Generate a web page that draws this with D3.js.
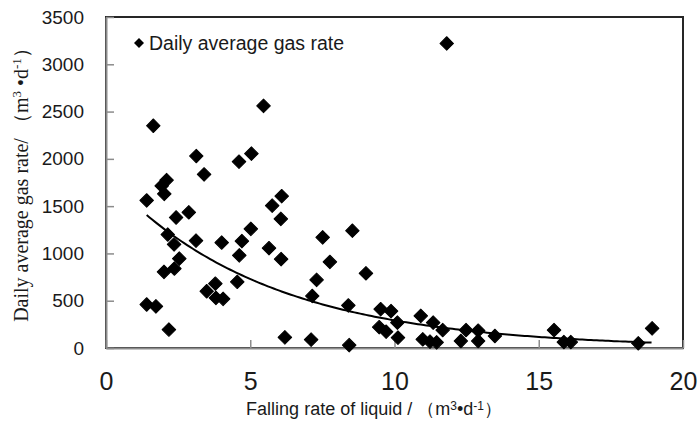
<!DOCTYPE html>
<html>
<head>
<meta charset="utf-8">
<script src="https://cdn.jsdelivr.net/npm/d3@7"></script>
<style>
  body { margin: 0; background: #fff; }
</style>
</head>
<body>
<div id="chart"></div>
<script>
// values
const liquidRate = [1.41, 1.41, 1.64, 1.73, 1.93, 2.01, 2.02, 2.10, 2.14, 2.18,
  2.36, 2.37, 2.43, 2.54, 2.87, 3.12, 3.13, 3.40, 3.49, 3.79,
  3.81, 4.01, 4.06, 4.55, 4.61, 4.62, 4.71, 5.02, 5.04, 5.46,
  5.65, 5.76, 6.06, 6.07, 6.09, 6.20, 7.11, 7.15, 7.30, 7.51,
  7.76, 8.40, 8.43, 8.54, 9.01, 9.47, 9.52, 9.71, 9.88, 10.10,
  10.12, 10.91, 10.98, 11.23, 11.34, 11.46, 11.67, 11.81, 12.30, 12.48,
  12.90, 12.90, 13.48, 15.53, 15.87, 16.11, 18.45, 18.93];
const gasRate = [1560, 460, 2350, 440, 1715, 805, 1630, 1775, 1200, 195,
  1095, 840, 1380, 945, 1435, 1135, 2030, 1835, 600, 680,
  530, 1115, 520, 700, 1970, 980, 1130, 1260, 2055, 2560,
  1055, 1505, 1365, 940, 1605, 113, 88, 550, 720, 1170,
  910, 450, 30, 1240, 790, 220, 410, 172, 390, 268,
  110, 340, 92, 67, 268, 60, 190, 3220, 74, 190,
  183, 74, 127, 190, 63, 63, 50, 208];
const xTicks = [0, 5, 10, 15, 20];
const yTicks = [0, 500, 1000, 1500, 2000, 2500, 3000, 3500];
const legendLabel = "Daily average gas rate";

const width = 699, height = 437;
const margin = { top: 17, right: 16, bottom: 89, left: 106 };

const svg = d3.select("#chart").append("svg")
  .attr("width", width)
  .attr("height", height)
  .style("font-family", "'Liberation Sans', Arial, sans-serif");

const x = d3.scaleLinear().domain([0, 20]).range([margin.left, width - margin.right]);
const y = d3.scaleLinear().domain([0, 3500]).range([height - margin.bottom, margin.top]);

const points = liquidRate.map((d, i) => ({ x: d, y: gasRate[i] }));

// plot frame
svg.append("rect")
  .attr("x", x(0)).attr("y", y(3500))
  .attr("width", x(20) - x(0)).attr("height", y(0) - y(3500))
  .attr("fill", "none").attr("stroke", "#262626").attr("stroke-width", 2);

const xAxis = svg.append("g")
  .attr("transform", `translate(0,${y(0)})`)
  .call(d3.axisBottom(x).tickValues(xTicks).tickFormat(d3.format("d"))
    .tickSize(-8).tickPadding(24).tickSizeOuter(0));
xAxis.select(".domain").attr("stroke", "#8c8c8c").attr("stroke-width", 2);
xAxis.selectAll(".tick line").attr("stroke", "#8c8c8c").attr("stroke-width", 1.5);
xAxis.selectAll(".tick text").attr("font-size", 25).attr("fill", "#1a1a1a");

const yAxis = svg.append("g")
  .attr("transform", `translate(${x(0)},0)`)
  .call(d3.axisLeft(y).tickValues(yTicks).tickFormat(d3.format("d"))
    .tickSize(-8).tickPadding(22).tickSizeOuter(0));
yAxis.select(".domain").attr("stroke", "#8c8c8c").attr("stroke-width", 2);
yAxis.selectAll(".tick line").attr("stroke", "#8c8c8c").attr("stroke-width", 1.5);
yAxis.selectAll(".tick text").attr("font-size", 19).attr("fill", "#1a1a1a");

// exponential trend line (least squares on ln y, as a spreadsheet does)
const lnY = gasRate.map(Math.log);
const mx = d3.mean(liquidRate), my = d3.mean(lnY);
const b = d3.sum(liquidRate, (d, i) => (d - mx) * (lnY[i] - my)) /
  d3.sum(liquidRate, d => (d - mx) * (d - mx));
const a = Math.exp(my - b * mx);
const xs = d3.range(d3.min(liquidRate), d3.max(liquidRate) + 0.01, 0.1);
const line = d3.line().x(d => x(d)).y(d => y(a * Math.exp(b * d)));
svg.append("path")
  .datum(xs)
  .attr("d", line)
  .attr("fill", "none")
  .attr("stroke", "#000")
  .attr("stroke-width", 2);

const diamond = d3.symbol().type(d3.symbolSquare).size(92);
svg.append("g").selectAll("path")
  .data(points)
  .join("path")
  .attr("d", diamond)
  .attr("transform", d => `translate(${x(d.x)},${y(d.y)}) rotate(45)`)
  .attr("fill", "#000")
  .attr("stroke", "#000")
  .attr("stroke-width", 1)
  .attr("stroke-linejoin", "round");

// legend
const legend = svg.append("g").attr("transform", "translate(139,43)");
legend.append("path")
  .attr("d", d3.symbol().type(d3.symbolSquare).size(50))
  .attr("transform", "rotate(45)")
  .attr("fill", "#000");
legend.append("text")
  .attr("x", 10).attr("y", 7)
  .attr("font-size", 19.5)
  .attr("fill", "#1a1a1a")
  .text(legendLabel);

// axis titles
const xTitle = svg.append("text")
  .attr("x", 374).attr("y", 415)
  .attr("text-anchor", "middle")
  .attr("font-size", 18)
  .attr("fill", "#1a1a1a");
xTitle.append("tspan").text("Falling rate of liquid / （m");
xTitle.append("tspan").attr("font-size", 12).attr("dy", -5).text("3");
xTitle.append("tspan").attr("dy", 5).text("•d");
xTitle.append("tspan").attr("font-size", 12).attr("dy", -5).text("-1");
xTitle.append("tspan").attr("dy", 5).text("）");

const yTitle = svg.append("text")
  .attr("transform", "translate(28,180) rotate(-90)")
  .attr("text-anchor", "middle")
  .attr("font-family", "'Liberation Serif', 'Times New Roman', serif")
  .attr("font-size", 20)
  .attr("fill", "#1a1a1a");
yTitle.append("tspan").text("Daily average gas rate/ （m");
yTitle.append("tspan").attr("font-size", 13).attr("dy", -7).text("3");
yTitle.append("tspan").attr("dy", 7).text(" •d");
yTitle.append("tspan").attr("font-size", 13).attr("dy", -7).text("-1");
yTitle.append("tspan").attr("dy", 7).text("）");
</script>
</body>
</html>
